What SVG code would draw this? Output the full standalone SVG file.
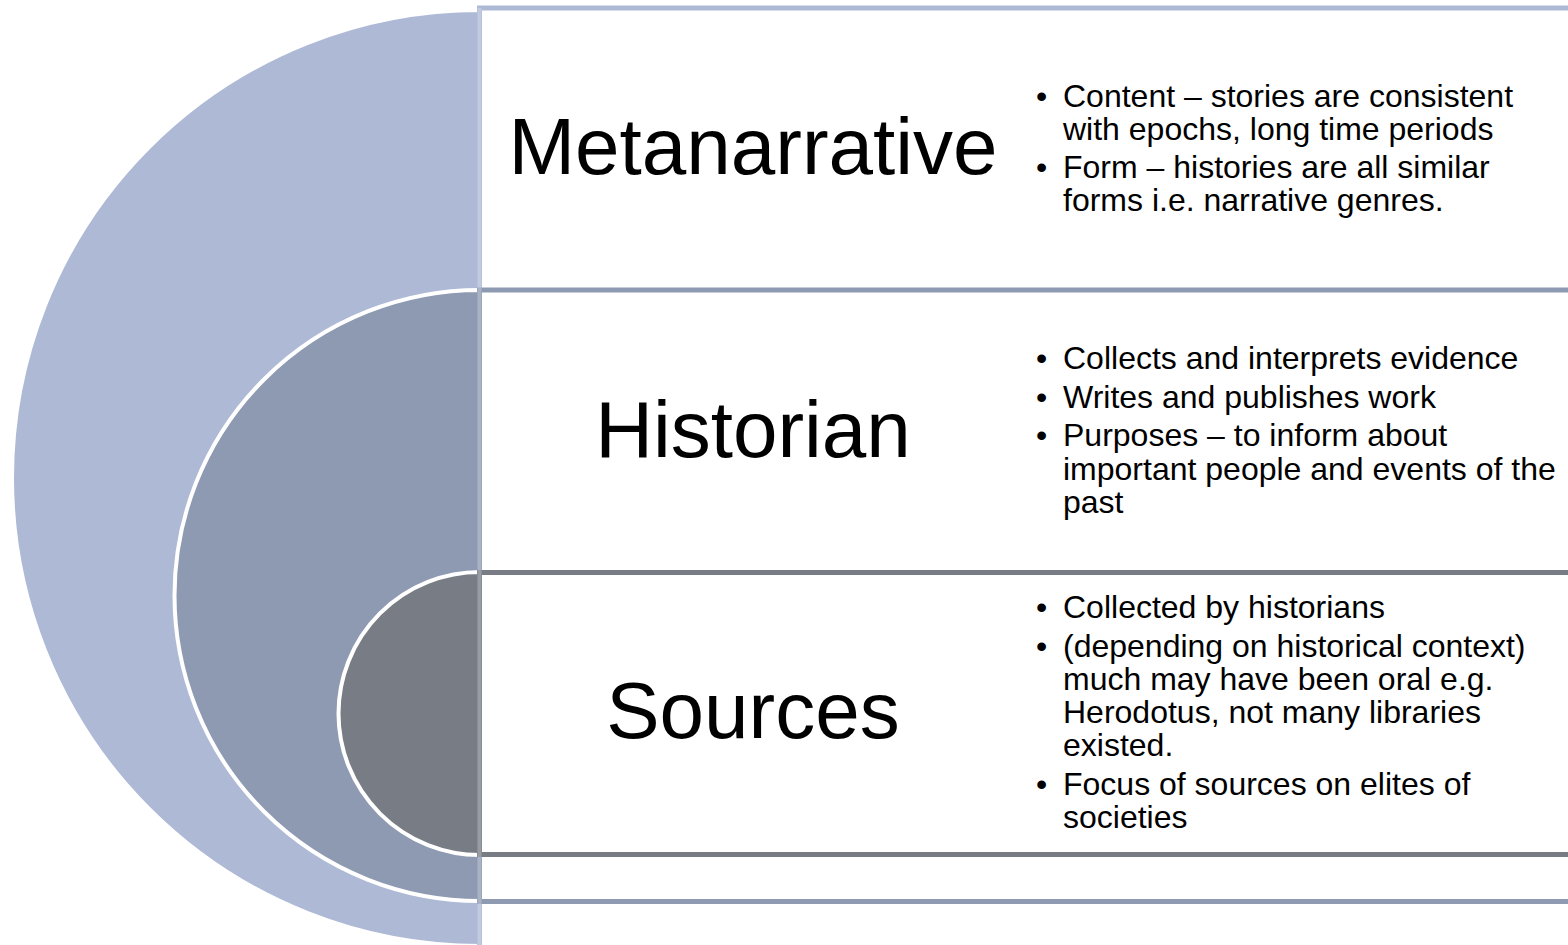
<svg xmlns="http://www.w3.org/2000/svg" width="1568" height="945" viewBox="0 0 1568 945">
<style>
.disc{stroke:#ffffff;stroke-width:4}
.box{fill:#ffffff;stroke-width:5}
.title{font-family:"Liberation Sans",Arial,sans-serif;font-size:80px;fill:#000000;text-anchor:middle}
.bul{font-family:"Liberation Sans",Arial,sans-serif;font-size:32px;fill:#000000}
</style>
<rect x="0" y="0" width="1568" height="945" fill="#ffffff"/>
<g id="metanarrative">
<path class="disc" d="M480,10 A468,468 0 0 0 480,946 Z" fill="#ADB9D5"/>
<rect class="box" x="479.5" y="8" width="1200" height="960" stroke="#ADB9D5"/>
<text class="title" x="753" y="174">Metanarrative</text>
<g class="bul">
<text x="1036" y="107">•</text><text x="1063" y="107">Content – stories are consistent</text>
<text x="1063" y="140">with epochs, long time periods</text>
<text x="1036" y="178">•</text><text x="1063" y="178">Form – histories are all similar</text>
<text x="1063" y="211">forms i.e. narrative genres.</text>
</g>
</g>
<g id="historian">
<path class="disc" d="M480,290 A305.5,305.5 0 0 0 480,901 Z" fill="#8E9AB2"/>
<rect class="box" x="479.5" y="290" width="1200" height="611.5" stroke="#8E9AB2"/>
<text class="title" x="753" y="457">Historian</text>
<g class="bul">
<text x="1036" y="369">•</text><text x="1063" y="369">Collects and interprets evidence</text>
<text x="1036" y="408">•</text><text x="1063" y="408">Writes and publishes work</text>
<text x="1036" y="446">•</text><text x="1063" y="446">Purposes – to inform about</text>
<text x="1063" y="480">important people and events of the</text>
<text x="1063" y="513">past</text>
</g>
</g>
<g id="sources">
<path class="disc" d="M480,572 A141.5,141.5 0 0 0 480,855 Z" fill="#777C85"/>
<rect class="box" x="479.5" y="572.5" width="1200" height="282" stroke="#777C85"/>
<text class="title" x="753" y="738">Sources</text>
<g class="bul">
<text x="1036" y="618">•</text><text x="1063" y="618">Collected by historians</text>
<text x="1036" y="657">•</text><text x="1063" y="657">(depending on historical context)</text>
<text x="1063" y="690">much may have been oral e.g.</text>
<text x="1063" y="723">Herodotus, not many libraries</text>
<text x="1063" y="756">existed.</text>
<text x="1036" y="795">•</text><text x="1063" y="795">Focus of sources on elites of</text>
<text x="1063" y="828">societies</text>
</g>
</g>
<g id="connectors">
<line x1="479.5" y1="8" x2="479.5" y2="945" stroke="#ffffff" stroke-opacity="0.25" stroke-width="4"/>
</g>
</svg>
